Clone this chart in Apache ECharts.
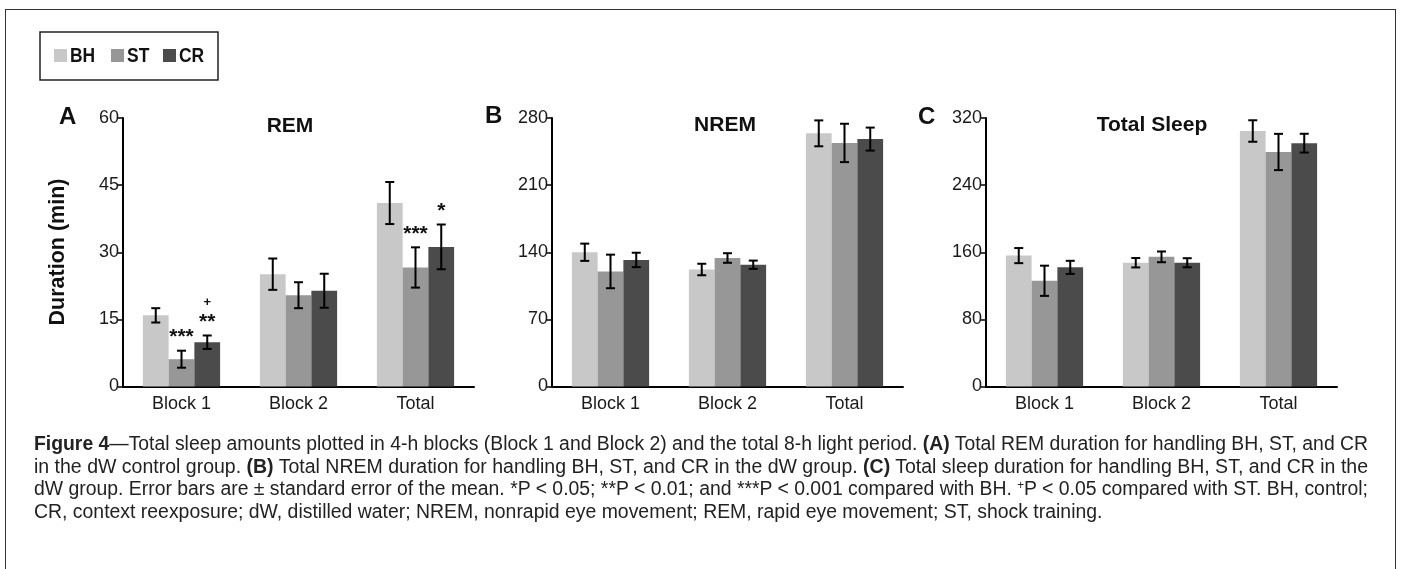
<!DOCTYPE html>
<html lang="en">
<head>
<meta charset="UTF-8">
<title>Figure 4</title>
<script src="https://cdn.jsdelivr.net/npm/echarts@6/dist/echarts.min.js"></script>
<style>
  * { margin: 0; padding: 0; box-sizing: border-box; }
  body { width: 1401px; height: 569px; background: #fff; overflow: hidden; position: relative; }
  #frame {
    position: absolute; left: 5px; top: 9px; width: 1391px; height: 600px;
    border: 1.5px solid #333;
  }
  #chart { position: absolute; left: 0; top: 0; width: 1401px; height: 569px; }
  #caption {
    position: absolute; left: 34px; top: 432px; width: 1334px;
    font-family: 'Liberation Sans', Arial, sans-serif;
    font-size: 20px; line-height: 22.7px; color: #222;
  }
  #caption div { white-space: nowrap; height: 22.7px; }
  #caption span.ln { display: inline-block; transform-origin: 0 50%; }
  #caption sup { font-size: 12px; line-height: 0; vertical-align: 6px; }
</style>
</head>
<body>
<div id="frame"></div>
<div id="chart"></div>
<div id="caption">
  <div><span class="ln"><b>Figure 4</b>—Total sleep amounts plotted in 4-h blocks (Block 1 and Block 2) and the total 8-h light period. <b>(A)</b> Total REM duration for handling BH, ST, and CR</span></div>
  <div><span class="ln">in the dW control group. <b>(B)</b> Total NREM duration for handling BH, ST, and CR in the dW group. <b>(C)</b> Total sleep duration for handling BH, ST, and CR in the</span></div>
  <div><span class="ln">dW group. Error bars are ± standard error of the mean. *P &lt; 0.05; **P &lt; 0.01; and ***P &lt; 0.001 compared with BH. <sup>+</sup>P &lt; 0.05 compared with ST. BH, control;</span></div>
  <div><span class="ln">CR, context reexposure; dW, distilled water; NREM, nonrapid eye movement; REM, rapid eye movement; ST, shock training.</span></div>
</div>

<script>
// 数据
var categories = ['Block 1', 'Block 2', 'Total'];
var groups = ['BH', 'ST', 'CR'];
var colors = ['#c8c8c8', '#979797', '#4b4b4b'];

// A: REM
var remBH = [15.9, 25.1, 41.0];
var remST = [6.1, 20.4, 26.6];
var remCR = [9.9, 21.4, 31.2];
var remBHErr = [1.6, 3.5, 4.7];
var remSTErr = [1.9, 2.9, 4.5];
var remCRErr = [1.5, 3.8, 5.0];
var remSig = [['', '***', '**'], ['', '', ''], ['', '***', '*']];
var remSigST = [['', '', '+'], ['', '', ''], ['', '', '']];

// B: NREM
var nremBH = [140, 122, 264];
var nremST = [120, 134, 254];
var nremCR = [132, 127, 258];
var nremBHErr = [9, 6, 13.5];
var nremSTErr = [17.5, 5, 20];
var nremCRErr = [7.5, 4.3, 12];

// C: Total Sleep
var sleepBH = [156, 147.5, 304.5];
var sleepST = [126, 154.5, 279.5];
var sleepCR = [142, 147.5, 290];
var sleepBHErr = [9, 5.6, 12.8];
var sleepSTErr = [18, 6.4, 21.6];
var sleepCRErr = [7.8, 5.4, 11.2];

// 坐标轴刻度
var remTicks = { max: 60, interval: 15 };
var nremTicks = { max: 280, interval: 70 };
var sleepTicks = { max: 320, interval: 80 };

var font = "'Liberation Sans', Arial, sans-serif";
var gap = 0.34;

var panels = [
  { left: 123, means: [remBH, remST, remCR], errs: [remBHErr, remSTErr, remCRErr], ticks: remTicks, sig: remSig, sig2: remSigST },
  { left: 552, means: [nremBH, nremST, nremCR], errs: [nremBHErr, nremSTErr, nremCRErr], ticks: nremTicks },
  { left: 986, means: [sleepBH, sleepST, sleepCR], errs: [sleepBHErr, sleepSTErr, sleepCRErr], ticks: sleepTicks }
];

var grid = [], xAxis = [], yAxis = [], series = [];

panels.forEach(function (p, gi) {
  grid.push({ left: p.left, width: 351, top: 118, height: 268.5 });
  xAxis.push({
    type: 'category', gridIndex: gi, data: categories,
    axisLine: { lineStyle: { color: '#000', width: 2 } },
    axisTick: { length: 6, lineStyle: { color: '#000', width: 2 } },
    axisLabel: { color: '#1a1a1a', fontSize: 18, fontFamily: font, margin: 9 }
  });
  yAxis.push({
    type: 'value', gridIndex: gi, min: 0, max: p.ticks.max, interval: p.ticks.interval,
    splitLine: { show: false },
    axisLine: { show: true, lineStyle: { color: '#000', width: 2 } },
    axisTick: { show: true, length: 6, lineStyle: { color: '#000', width: 1.5 } },
    axisLabel: { color: '#1a1a1a', fontSize: 18, fontFamily: font, margin: 4 }
  });

  groups.forEach(function (g, k) {
    series.push({
      name: g, type: 'bar', xAxisIndex: gi, yAxisIndex: gi,
      data: p.means[k], barGap: 0, barCategoryGap: (gap * 100) + '%',
      itemStyle: { color: colors[k] }, silent: true
    });
  });

  // 误差线 + 显著性标记
  var errData = [];
  for (var c = 0; c < categories.length; c++) {
    for (var k = 0; k < groups.length; k++) {
      errData.push([c, k, p.means[k][c], p.errs[k][c]]);
    }
  }
  series.push({
    type: 'custom', xAxisIndex: gi, yAxisIndex: gi, silent: true, z: 5,
    data: errData,
    encode: { x: 0, y: 2 },
    renderItem: function (params, api) {
      var c = api.value(0), k = api.value(1), m = api.value(2), e = api.value(3);
      var band = api.size([1, 0])[0];
      var barW = band * (1 - gap) / 3;
      var x = api.coord([c, 0])[0] + (k - 1) * barW;
      var yHi = api.coord([c, m + e])[1];
      var yLo = api.coord([c, m - e])[1];
      var cap = 4.5;
      var st = { stroke: '#000', lineWidth: 2 };
      var kids = [
        { type: 'line', shape: { x1: x, y1: yHi, x2: x, y2: yLo }, style: st },
        { type: 'line', shape: { x1: x - cap, y1: yHi, x2: x + cap, y2: yHi }, style: st },
        { type: 'line', shape: { x1: x - cap, y1: yLo, x2: x + cap, y2: yLo }, style: st }
      ];
      if (p.sig && p.sig[c][k]) {
        kids.push({ type: 'text', x: x, y: yHi - 13, style: {
          text: p.sig[c][k], fill: '#111', font: 'bold 21px ' + font,
          align: 'center', verticalAlign: 'middle' } });
      }
      if (p.sig2 && p.sig2[c][k]) {
        kids.push({ type: 'text', x: x, y: yHi - 33, style: {
          text: p.sig2[c][k], fill: '#111', font: 'bold 13px ' + font,
          align: 'center', verticalAlign: 'middle' } });
      }
      return { type: 'group', children: kids };
    }
  });
});

// 图例 (窄体字)
var legendX = [54, 111, 163];
var legendGraphic = [
  { type: 'rect', shape: { x: 40, y: 32, width: 178, height: 48 }, style: { fill: 'none', stroke: '#222', lineWidth: 1.5 } }
];
groups.forEach(function (g, k) {
  legendGraphic.push({ type: 'rect', shape: { x: legendX[k], y: 49, width: 13, height: 13 }, style: { fill: colors[k] } });
  legendGraphic.push({ type: 'text', x: legendX[k] + 16, y: 56, scaleX: 0.83,
    style: { text: g, font: 'bold 21px ' + font, fill: '#111', align: 'left', verticalAlign: 'middle' } });
});

var labelFont = 'bold 24px ' + font;
var titleFont = 'bold 21px ' + font;

var option = {
  animation: false,
  grid: grid, xAxis: xAxis, yAxis: yAxis, series: series,
  graphic: legendGraphic.concat([
    { type: 'text', x: 59, y: 117, style: { text: 'A', font: labelFont, fill: '#111', verticalAlign: 'middle' } },
    { type: 'text', x: 485, y: 116, style: { text: 'B', font: labelFont, fill: '#111', verticalAlign: 'middle' } },
    { type: 'text', x: 918, y: 117, style: { text: 'C', font: labelFont, fill: '#111', verticalAlign: 'middle' } },
    { type: 'text', x: 290, y: 126, style: { text: 'REM', font: titleFont, fill: '#111', align: 'center', verticalAlign: 'middle' } },
    { type: 'text', x: 725, y: 125, style: { text: 'NREM', font: titleFont, fill: '#111', align: 'center', verticalAlign: 'middle' } },
    { type: 'text', x: 1152, y: 125, style: { text: 'Total Sleep', font: titleFont, fill: '#111', align: 'center', verticalAlign: 'middle' } },
    { type: 'text', x: 58, y: 252, rotation: Math.PI / 2,
      style: { text: 'Duration (min)', font: 'bold 21.5px ' + font, fill: '#111', align: 'center', verticalAlign: 'middle' } }
  ])
};

var chart = echarts.init(document.getElementById('chart'));
chart.setOption(option);

// 图注：每行压缩到同一宽度（两端对齐）
var lines = document.querySelectorAll('#caption span.ln');
var target = 1334, scales = [];
for (var i = 0; i < lines.length; i++) {
  var w = lines[i].getBoundingClientRect().width;
  if (i < lines.length - 1) {
    scales.push(target / w);
    lines[i].style.transform = 'scaleX(' + (target / w) + ')';
  }
}
var avg = scales.reduce(function (a, b) { return a + b; }, 0) / scales.length;
lines[lines.length - 1].style.transform = 'scaleX(' + avg + ')';
</script>
</body>
</html>
